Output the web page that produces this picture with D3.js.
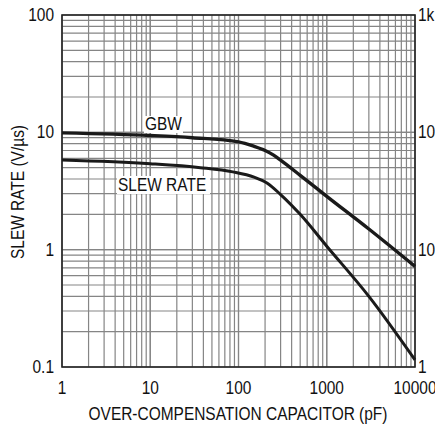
<!DOCTYPE html>
<html><head><meta charset="utf-8">
<script src="https://cdn.jsdelivr.net/npm/d3@7"></script>
<style>
html,body{margin:0;padding:0;background:#fff;overflow:hidden;}
text{font-family:"Liberation Sans Narrow","Arial Narrow","Liberation Sans",Arial,sans-serif;fill:#111;}
</style></head>
<body>
<svg id="c" width="435" height="425"></svg>
<script>
// Data
const capacitance = [1, 10, 30, 100, 150, 200, 250, 300, 500, 1000, 3000, 10000];
const gbw =         [9.9, 9.4, 9.0, 8.3, 7.6, 7.0, 6.4, 5.8, 4.3, 2.85, 1.5, 0.72];
const slewC =       [1, 10, 37, 86, 150, 210, 300, 500, 1000, 3000, 10000];
const slewRate =    [5.8, 5.4, 5.0, 4.6, 4.15, 3.7, 2.95, 2.0, 1.07, 0.40, 0.115];
const xTicks = [1, 10, 100, 1000, 10000];
const xTickLabels = ["1", "10", "100", "1000", "10000"];
const yTicks = [0.1, 1, 10, 100];
const yTickLabels = ["0.1", "1", "10", "100"];
const yRightLabels = ["1", "10", "100", "1k"];
const xTitle = "OVER-COMPENSATION CAPACITOR (pF)";
const yTitle = "SLEW RATE (V/µs)";

const svg = d3.select("#c");
const L = 62, R = 415, T = 15, B = 367;
const x = d3.scaleLog().domain([1, 10000]).range([L, R]);
const y = d3.scaleLog().domain([0.1, 100]).range([B, T]);
const SX = 0.86; // condensed look

function txt(s, px, py, size, anchor, rot) {
  return svg.append("text")
    .attr("transform", `translate(${px},${py})` + (rot ? ` rotate(${rot})` : "") + ` scale(${SX},1)`)
    .attr("text-anchor", anchor || "start").attr("font-size", size).text(s);
}

// minor grid values
const xGrid = [], yGrid = [];
for (let d = 1; d < 10000; d *= 10) for (let k = 1; k <= 10; k++) xGrid.push(d * k);
for (let d = 0.1; d < 99; d *= 10) for (let k = 1; k <= 10; k++) yGrid.push(+(d * k).toPrecision(3));

const g = svg.append("g");
g.selectAll("line.vx").data(xGrid).enter().append("line")
  .attr("x1", d => x(d)).attr("x2", d => x(d)).attr("y1", T).attr("y2", B)
  .attr("stroke", "#858585").attr("stroke-width", 1.2);
g.selectAll("line.hy").data(yGrid).enter().append("line")
  .attr("x1", L).attr("x2", R).attr("y1", d => y(d)).attr("y2", d => y(d))
  .attr("stroke", "#858585").attr("stroke-width", 1.2);

// frame
svg.append("rect").attr("x", L).attr("y", T).attr("width", R - L).attr("height", B - T)
  .attr("fill", "none").attr("stroke", "#222").attr("stroke-width", 1.6);

// curves
const line = d3.line().curve(d3.curveMonotoneX);
const gbwPts = capacitance.map((c, i) => [x(c), y(gbw[i])]);
const srPts = slewC.map((c, i) => [x(c), y(slewRate[i])]);
svg.append("path").attr("d", line(gbwPts)).attr("fill", "none")
  .attr("stroke", "#1a1a1a").attr("stroke-width", 3.4);
svg.append("path").attr("d", line(srPts)).attr("fill", "none")
  .attr("stroke", "#1a1a1a").attr("stroke-width", 3);

// curve labels with white boxes
svg.append("rect").attr("x", 144).attr("y", 116).attr("width", 39).attr("height", 17).attr("fill", "#fff");
txt("GBW", 145, 130, 18);
svg.append("rect").attr("x", 117).attr("y", 176).attr("width", 93).attr("height", 18).attr("fill", "#fff");
txt("SLEW RATE", 118, 191, 18);

// x axis labels
xTicks.forEach((d, i) => txt(xTickLabels[i], x(d), 394, 18, "middle"));
// left y labels
yTicks.forEach((d, i) => txt(yTickLabels[i], 54, y(d) + 6, 18, "end"));
// right y labels
yTicks.forEach((d, i) => txt(yRightLabels[i], 418, y(d) + 6, 18, "start"));

// titles
txt(xTitle, 238, 420, 18, "middle");
txt(yTitle, 24, 192, 18, "middle", -90);
</script>
</body></html>
